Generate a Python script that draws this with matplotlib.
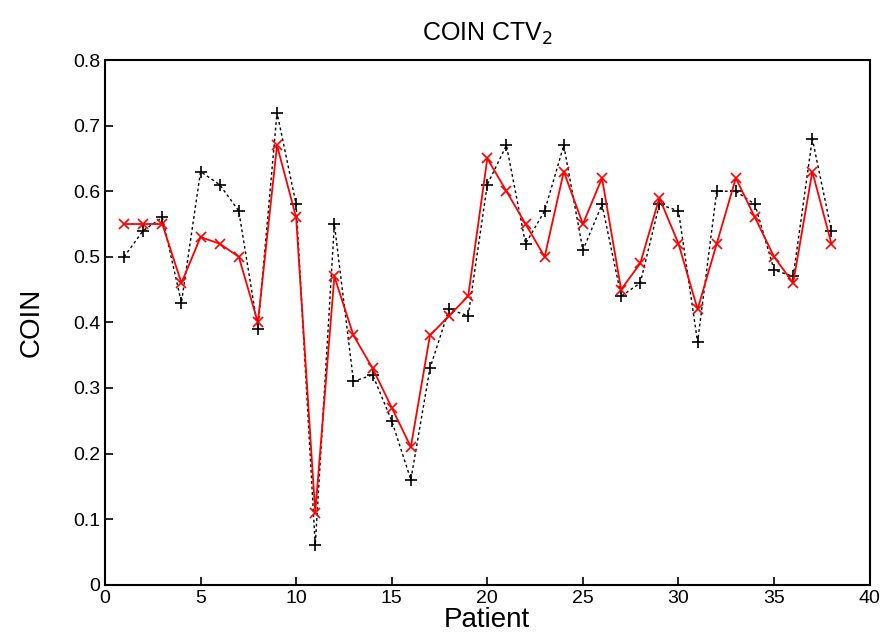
import matplotlib
matplotlib.use('Agg')
import matplotlib.pyplot as plt

plt.rcParams['font.family'] = ['Liberation Sans', 'DejaVu Sans']

patient = list(range(1, 39))
# dashed black series (+)
coin_a = [0.50, 0.54, 0.56, 0.43, 0.63, 0.61, 0.57, 0.39, 0.72, 0.58,
          0.06, 0.55, 0.31, 0.32, 0.25, 0.16, 0.33, 0.42, 0.41, 0.61,
          0.67, 0.52, 0.57, 0.67, 0.51, 0.58, 0.44, 0.46, 0.58, 0.57,
          0.37, 0.60, 0.60, 0.58, 0.48, 0.47, 0.68, 0.54]
# solid red series (x)
coin_b = [0.55, 0.55, 0.55, 0.46, 0.53, 0.52, 0.50, 0.40, 0.67, 0.56,
          0.11, 0.47, 0.38, 0.33, 0.27, 0.21, 0.38, 0.41, 0.44, 0.65,
          0.60, 0.55, 0.50, 0.63, 0.55, 0.62, 0.45, 0.49, 0.59, 0.52,
          0.42, 0.52, 0.62, 0.56, 0.50, 0.46, 0.63, 0.52]

fig = plt.figure(figsize=(8.82, 6.39), dpi=100)
ax = fig.add_axes([0.119, 0.085, 0.867, 0.821])

ax.plot(patient, coin_a, color='black', ls=(0, (2, 2)), lw=1, marker='+', ms=8, mew=1.2)
ax.plot(patient, coin_b, color='red', ls='-', lw=1.3, marker='x', ms=7, mew=1.2)

ax.set_xlim(0, 40)
ax.set_ylim(0, 0.8)
ax.set_xticks(range(0, 41, 5))
ax.set_yticks([i / 10 for i in range(9)])
ax.set_yticklabels(['0'] + ['%.1f' % (i / 10) for i in range(1, 9)])
ax.tick_params(direction='in', labelsize=14, length=6, width=1.2)
for s in ax.spines.values():
    s.set_linewidth(1.5)

ax.set_xlabel('Patient', fontsize=20, labelpad=0)
ax.set_ylabel('COIN', fontsize=20, labelpad=20)
ax.set_title('COIN CTV$_2$', fontsize=18, pad=14)

fig.savefig('out.png', dpi=100)
